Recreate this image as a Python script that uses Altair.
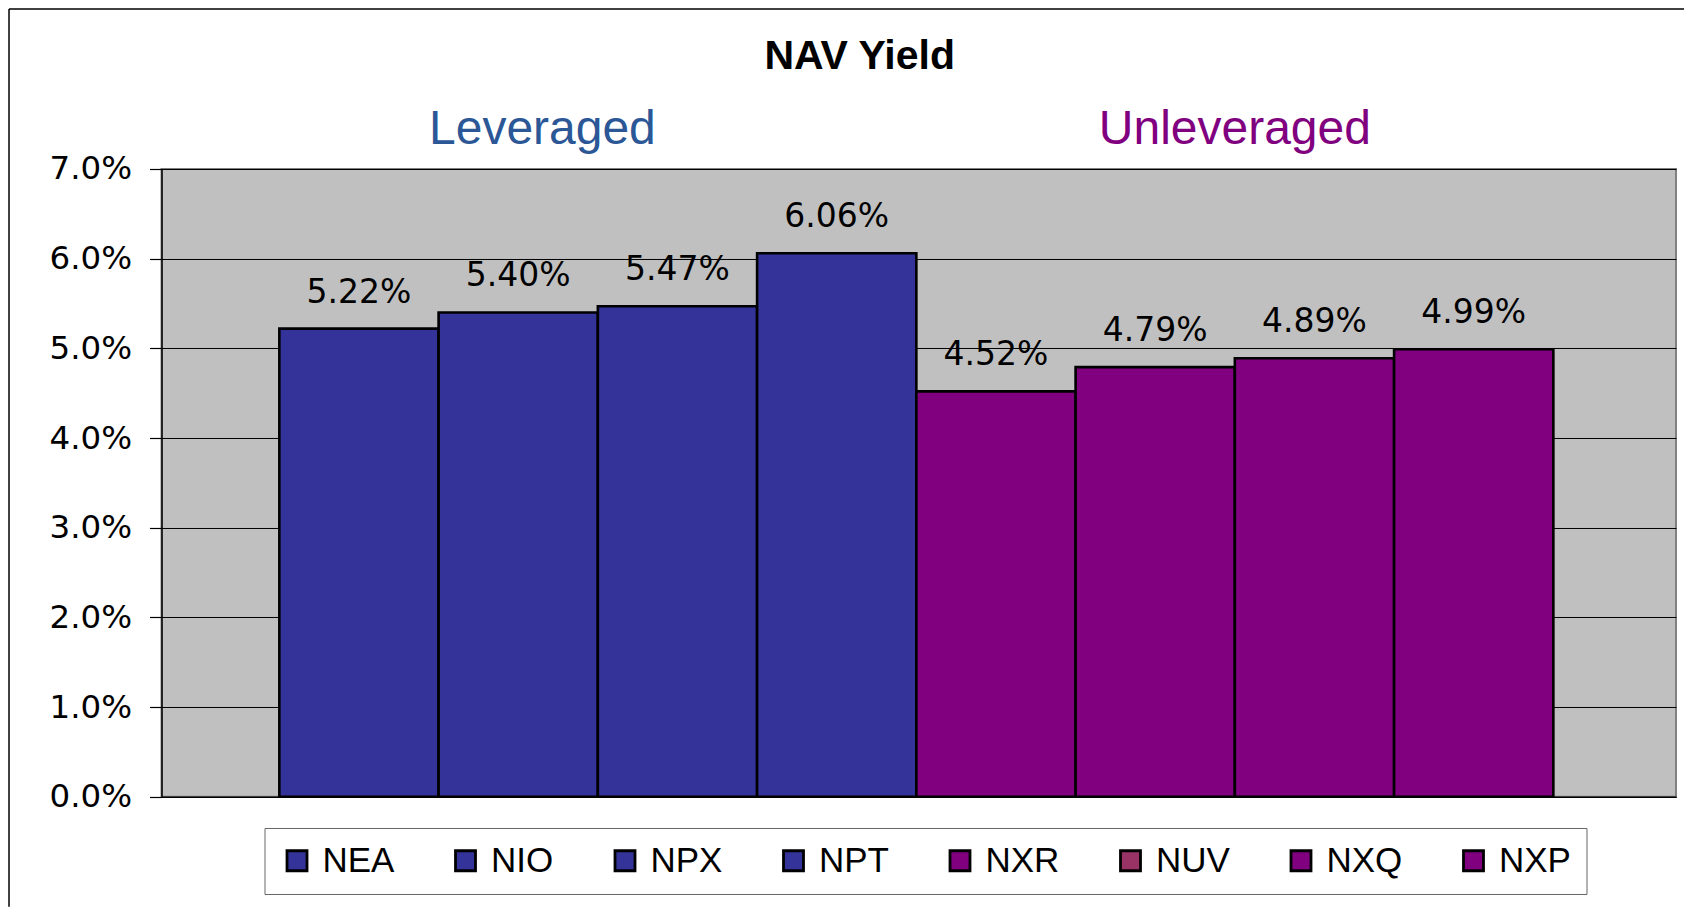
import altair as alt
import pandas as pd

funds = ["NEA", "NIO", "NPX", "NPT", "NXR", "NUV", "NXQ", "NXP"]
nav_yield = [0.0522, 0.0540, 0.0547, 0.0606, 0.0452, 0.0479, 0.0489, 0.0499]
groups = ["Leveraged", "Leveraged", "Leveraged", "Leveraged",
          "Unleveraged", "Unleveraged", "Unleveraged", "Unleveraged"]
group_names = ["Leveraged", "Unleveraged"]
group_colors = ["#333399", "#800080"]
legend_colors = ["#333399", "#333399", "#333399", "#333399",
                 "#800080", "#993366", "#800080", "#800080"]
y_ticks = [0.0, 0.01, 0.02, 0.03, 0.04, 0.05, 0.06, 0.07]
chart_title = "NAV Yield"

df = pd.DataFrame({"fund": funds, "value": nav_yield, "group": groups})
ann = pd.DataFrame({"label": group_names, "anchor": ["NIO", "NUV"]})
one_row = pd.DataFrame({"title": [chart_title]})

W, H = 1514.5, 627.7
PL, PT, PR, PB = 153.5, 161, 8, 110

x_enc = alt.X("fund:N", sort=funds,
              scale=alt.Scale(domain=funds, paddingInner=0, paddingOuter=0.755,
                              align=0.49),
              axis=alt.Axis(labels=False, ticks=False, title=None, grid=False,
                            domainColor="black", domainWidth=1.5))

bars = alt.Chart(df).mark_bar(stroke="black", strokeWidth=2.6).encode(
    x=x_enc,
    y=alt.Y("value:Q", scale=alt.Scale(domain=[0, 0.07], nice=False),
            axis=alt.Axis(values=y_ticks, format=".1%", title=None)),
    fill=alt.Fill("group:N", scale=alt.Scale(domain=group_names, range=group_colors),
                  legend=None),
)

legend_layer = alt.Chart(df).mark_square(opacity=0).encode(
    x=alt.X("fund:N", sort=funds),
    y=alt.Y("value:Q"),
    color=alt.Color("fund:N", sort=funds,
                    scale=alt.Scale(domain=funds, range=legend_colors),
                    legend=alt.Legend(
                        title=None, orient="none", direction="horizontal",
                        columns=8, legendX=103, legendY=659,
                        symbolType="square", symbolSize=400, symbolOpacity=1,
                        symbolStrokeColor="black", symbolStrokeWidth=2.8,
                        labelFont="Liberation Sans", labelFontSize=35,
                        labelColor="black", labelOffset=8,
                        columnPadding=53.5, padding=15,
                        strokeColor="#666666", fillColor="white",
                    )),
)

labels = alt.Chart(df).mark_text(
    dy=-26, baseline="alphabetic", font="DejaVu Sans", fontSize=33, color="black"
).encode(
    x=alt.X("fund:N", sort=funds),
    y=alt.Y("value:Q"),
    text=alt.Text("value:Q", format=".2%"),
)

lev = alt.Chart(ann).transform_filter(alt.datum.label == "Leveraged").mark_text(
    font="Liberation Sans", fontSize=48, color="#2B5797", baseline="alphabetic"
).encode(
    x=alt.X("anchor:N", sort=funds, bandPosition=0.652),
    y=alt.value(-24.7),
    text="label:N",
)

unlev = alt.Chart(ann).transform_filter(alt.datum.label == "Unleveraged").mark_text(
    font="Liberation Sans", fontSize=48, color="#800080", baseline="alphabetic"
).encode(
    x=alt.X("anchor:N", sort=funds, bandPosition=1.0),
    y=alt.value(-24.7),
    text="label:N",
)

title_mark = alt.Chart(one_row).mark_text(
    font="Liberation Sans", fontSize=41, fontWeight="bold", color="black",
    baseline="alphabetic", align="center"
).encode(
    x=alt.value(698.2), y=alt.value(-99.7), text="title:N"
)

frame_left = alt.Chart(one_row).mark_rule(color="black", strokeWidth=1.5).encode(
    x=alt.value(-PL + 1), y=alt.value(-PT + 1), y2=alt.value(H + PB)
)
frame_top = alt.Chart(one_row).mark_rule(color="black", strokeWidth=1.5).encode(
    x=alt.value(-PL + 1), x2=alt.value(W + PR), y=alt.value(-PT + 1)
)

chart = alt.layer(bars, legend_layer, labels, lev, unlev, title_mark,
                  frame_left, frame_top).properties(
    width=W, height=H,
    padding={"left": PL, "top": PT, "right": PR, "bottom": PB},
    autosize=alt.AutoSizeParams(type="none"),
).configure_view(
    fill="#C0C0C0", stroke="#808080", strokeWidth=2
).configure_axisY(
    domainColor="black", domainWidth=1.5, tickColor="black", tickSize=12,
    tickWidth=1.2, labelFont="DejaVu Sans", labelFontSize=32.5, labelColor="black",
    labelPadding=18, grid=True, gridColor="black", gridWidth=1, gridOpacity=1,
)

chart.save("out.html", embed_options={"renderer": "svg", "actions": False})
